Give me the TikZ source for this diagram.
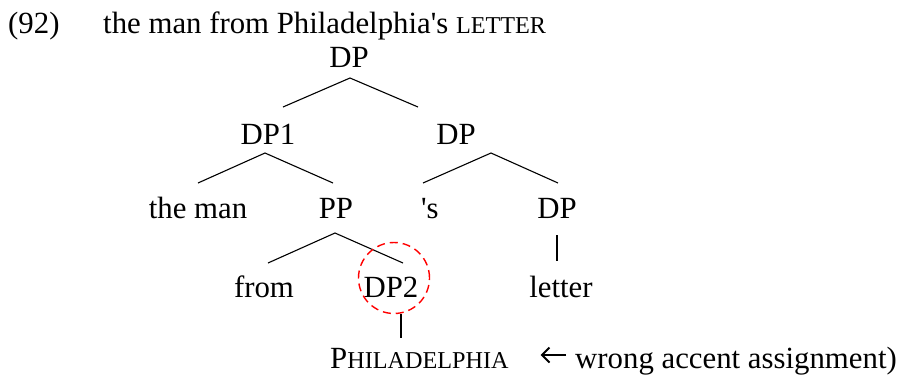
\documentclass[tikz,border=0pt]{standalone}
\usepackage{fontspec}
\setmainfont{Liberation Serif}[Ligatures=TeXOff]
\newcommand{\fsc}[1]{{\fontsize{24.2}{28}\selectfont #1}}
\tikzset{
  lbl/.style={inner sep=0pt, font=\fontsize{30.8}{36}\selectfont},
  branch/.style={line width=1.1pt, black},
  pointer/.style={line width=1.8pt, black, line cap=butt, line join=miter},
  focus/.style={draw=red, line width=1.4pt, dash pattern=on 8pt off 5pt}
}
\begin{document}
\begin{tikzpicture}[x=1pt,y=-1pt]
\useasboundingbox (0,0) rectangle (906,376);
% title
\node[lbl, anchor=base west] (num) at (8,33) {(92)};
\node[lbl, anchor=base west] (title) at (103,33) {the man from Philadelphia's \fsc{LETTER}};
% nodes
\node[lbl, anchor=base] (root) at (349,67) {DP};
\node[lbl, anchor=base] (dp1) at (268,144) {DP1};
\node[lbl, anchor=base] (dpr) at (456,144) {DP};
\node[lbl, anchor=base] (theman) at (198,218) {the man};
\node[lbl, anchor=base] (pp) at (336,218) {PP};
\node[lbl, anchor=base west] (poss) at (421,218) {'s};
\node[lbl, anchor=base] (dpl) at (557,218) {DP};
\node[lbl, anchor=base] (from) at (264,297) {from};
\node[lbl, anchor=base] (dp2) at (391,297) {DP2};
\node[lbl, anchor=base] (letter) at (561,297) {letter};
\node[lbl, anchor=base west] (phil) at (330,368) {P\fsc{HILADELPHIA}};
\node[lbl, anchor=base east] (note) at (897,368) {wrong accent assignment)};
% branch points
\coordinate (rA) at (350,78);  \coordinate (rL) at (283,107); \coordinate (rR) at (418,107);
\coordinate (aA) at (265,153); \coordinate (aL) at (198,183); \coordinate (aR) at (333,183);
\coordinate (bA) at (491,153); \coordinate (bL) at (423,183); \coordinate (bR) at (558,183);
\coordinate (cA) at (335,233); \coordinate (cL) at (268,263); \coordinate (cR) at (403,263);
\coordinate (dT) at (557,235); \coordinate (dB) at (557,261);
\coordinate (eT) at (401,314); \coordinate (eB) at (401,338);
\draw[branch] (rL) -- (rA) -- (rR);
\draw[branch] (aL) -- (aA) -- (aR);
\draw[branch] (bL) -- (bA) -- (bR);
\draw[branch] (cL) -- (cA) -- (cR);
\draw[branch] (dT) -- (dB);
\draw[branch] (eT) -- (eB);
% arrow before the note
\coordinate (arT) at (542,355); \coordinate (arE) at (566,355);
\coordinate (arU) at (549.5,347.5); \coordinate (arD) at (549.5,362.5);
\draw[pointer] (arE) -- (arT);
\draw[pointer] (arU) -- (arT) -- (arD);
% circle round DP2
\node[focus, circle, minimum size=71pt, inner sep=0pt] (ring) at (394,278) {};
\end{tikzpicture}
\end{document}
